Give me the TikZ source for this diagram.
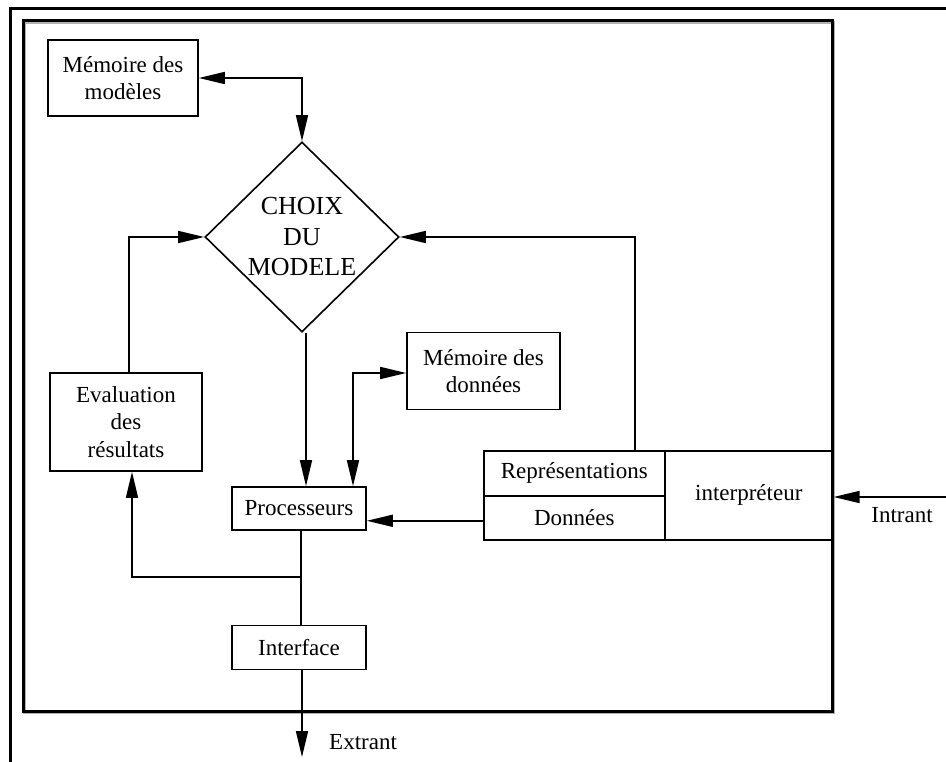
\documentclass[tikz,border=0pt]{standalone}
\usepackage{fontspec}
\setmainfont{Liberation Serif}
\usetikzlibrary{arrows.meta,shapes.geometric}

\tikzset{
  box/.style={draw, line width=1.6pt, rectangle, inner sep=0pt, align=center,
              font=\fontsize{23}{27.5}\selectfont},
  cell/.style={box, anchor=north west},
  tip/.style={-{Triangle[length=26pt,width=12pt]}},
  tiptwo/.style={{Triangle[length=26pt,width=12pt]}-{Triangle[length=26pt,width=12pt]}},
  wire/.style={line width=1.6pt},
  label/.style={font=\fontsize{23}{27.5}\selectfont, inner sep=0pt},
  frame/.style={line width=3pt}
}

\begin{document}
\begin{tikzpicture}[x=1pt,y=-1pt]
  \useasboundingbox (0,0) rectangle (946,762);

  % outer frame (top and left edges only)
  \draw[frame] (946,9) -- (10,9) -- (10,762);
  % inner frame with its soft shadow
  \draw[frame, gray!60] (24.5,22.5) rectangle (833.5,712.5);
  \draw[frame] (23,21) rectangle (832,711);

  % boxes
  \node[box, minimum width=150pt, minimum height=76pt] (memmod) at (123,78)
       {Mémoire des\\modèles};
  \node[draw, line width=1.6pt, diamond, aspect=1, inner sep=0pt,
        minimum width=194pt, minimum height=190pt, align=center,
        font=\fontsize{26}{30.5}\selectfont] (choix) at (302,237)
       {CHOIX\\DU\\MODELE};
  \node[box, minimum width=153pt, minimum height=77pt] (memdon) at (483.5,371)
       {Mémoire des\\données};
  \node[box, minimum width=152pt, minimum height=98pt] (eval) at (126,422)
       {Evaluation\\des\\résultats};
  \node[box, minimum width=134pt, minimum height=43pt] (proc) at (299,508.5)
       {Processeurs};
  \node[box, minimum width=134pt, minimum height=44pt] (interf) at (299,647.5)
       {Interface};

  % representation block
  \node[cell, minimum width=181pt, minimum height=45pt] (repr) at (483,450)
       {Représentations};
  \node[cell, minimum width=181pt, minimum height=44pt] (donnees) at (483,495)
       {Données};
  \node[cell, minimum width=168pt, minimum height=89pt] (interp) at (664,450)
       {interpréteur};

  % free ends and labels
  \coordinate (intrant) at (946,497);
  \coordinate (extrant) at (302,757);
  \coordinate (branch) at (301,577);
  \node[label, anchor=center] (lintrant) at (902,515) {Intrant};
  \node[label, anchor=west] (lextrant) at (329,742) {Extrant};

  % connectors
  \draw[wire, tiptwo] (memmod.east) -| (choix.north);
  \draw[wire, tip] ([xshift=3pt]eval.north) |- (choix.west);
  \draw[wire, tip] ([xshift=4pt]choix.south) -- ([xshift=4pt]choix.south |- proc.north);
  \draw[wire, tiptwo] ([xshift=54pt]proc.north) |- ([yshift=-2pt]memdon.west);
  \draw[wire, tip] ([xshift=60.5pt]repr.north) |- (choix.east);
  \draw[wire, tip] ([yshift=-3pt]donnees.west) -- ([yshift=-3pt]donnees.west -| proc.east);
  \draw[wire, tip] (intrant) -- (intrant -| interp.east);
  \draw[wire] ([xshift=2pt]proc.south) -- ([xshift=2pt]proc.south |- interf.north);
  \draw[wire, tip] (branch) -| ([xshift=6pt]eval.south);
  \draw[wire, tip] (extrant |- interf.south) -- (extrant);
\end{tikzpicture}
\end{document}
